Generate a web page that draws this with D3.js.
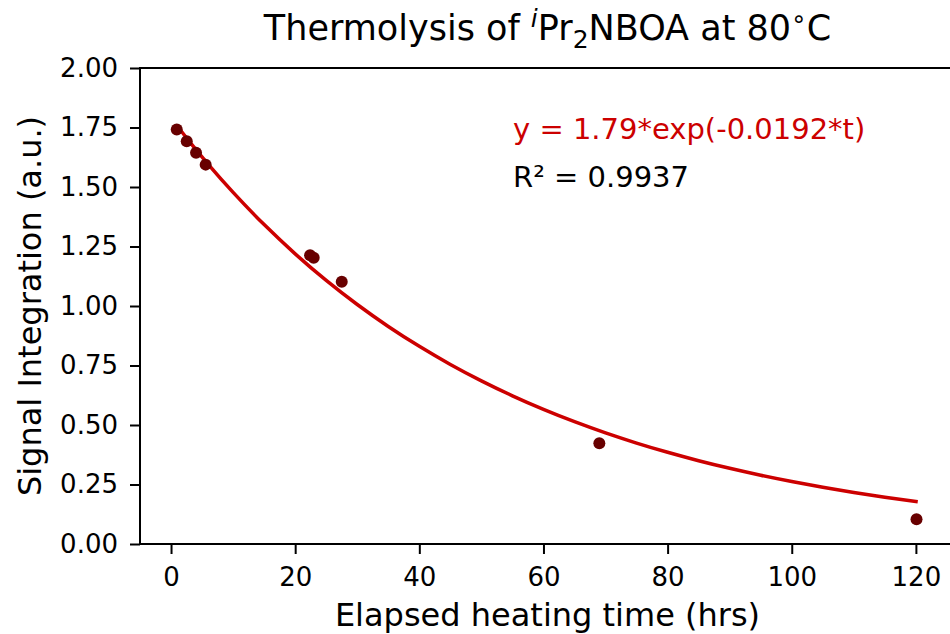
<!DOCTYPE html>
<html>
<head>
<meta charset="utf-8">
<script src="https://cdn.jsdelivr.net/npm/d3@7/dist/d3.min.js"></script>
<style>
  html, body { margin: 0; padding: 0; background: #fff; }
  svg { display: block; font-family: "DejaVu Sans", sans-serif; }
</style>
</head>
<body>
<svg id="chart" width="950" height="634"></svg>
<script>
// ---- data ----
const timeHrs = [0.92, 2.53, 4.03, 5.58, 22.4, 22.98, 27.5, 69.0, 120.1];
const signal  = [1.742, 1.692, 1.644, 1.594, 1.213, 1.203, 1.102, 0.423, 0.104];
const fitA = 1.79;
const fitK = 0.0192;
const fitTimes = [0.92, 3, 6, 10, 15, 20, 25, 30, 35, 40, 45, 50, 55, 60, 65, 70, 75, 80, 85, 90, 95, 100, 105, 110, 115, 120.3];
const xTicks = [0, 20, 40, 60, 80, 100, 120];
const yTicks = [0.00, 0.25, 0.50, 0.75, 1.00, 1.25, 1.50, 1.75, 2.00];
const equationText = "y = 1.79*exp(-0.0192*t)";
const r2Text = "R² = 0.9937";

// ---- layout ----
const L = 140, R = 955, T = 68, B = 544;
const svg = d3.select("#chart");

const x = d3.scaleLinear().domain([-5, 126.3]).range([L, R]);
const y = d3.scaleLinear().domain([0, 2]).range([B, T]);

// axes
const xAxis = svg.append("g").attr("transform", `translate(0,${B})`)
  .call(d3.axisBottom(x).tickValues(xTicks).tickFormat(d3.format("d")).tickSize(10).tickPadding(14));
const yAxis = svg.append("g").attr("transform", `translate(${L},0)`)
  .call(d3.axisLeft(y).tickValues(yTicks).tickFormat(d3.format(".2f")).tickSize(10).tickPadding(12));
[xAxis, yAxis].forEach(g => {
  g.select(".domain").remove();
  g.selectAll(".tick line").attr("stroke", "#000").attr("stroke-width", 2);
  g.selectAll(".tick text").attr("fill", "#000").style("font-family", "DejaVu Sans").style("font-size", "26px");
});

// frame (spines)
svg.append("rect").attr("x", L).attr("y", T).attr("width", R - L).attr("height", B - T)
  .attr("fill", "none").attr("stroke", "#000").attr("stroke-width", 2);

// fit curve
const line = d3.line().x(d => x(d)).y(d => y(fitA * Math.exp(-fitK * d))).curve(d3.curveMonotoneX);
svg.append("path").datum(fitTimes).attr("d", line)
  .attr("fill", "none").attr("stroke", "#cc0000").attr("stroke-width", 3.5);

// points
svg.append("g").selectAll("circle").data(timeHrs).join("circle")
  .attr("cx", d => x(d)).attr("cy", (d, i) => y(signal[i])).attr("r", 6)
  .attr("fill", "#680000");

// annotation
svg.append("text").attr("x", 513).attr("y", 139).attr("fill", "#cc0000")
  .style("font-size", "29px").text(equationText);
svg.append("text").attr("x", 513).attr("y", 187).attr("fill", "#000")
  .style("font-size", "29px").text(r2Text);

// title
const title = svg.append("text").attr("x", (L + R) / 2).attr("y", 40).attr("text-anchor", "middle")
  .style("font-size", "35px").attr("fill", "#000");
title.append("tspan").text("Thermolysis of ");
title.append("tspan").attr("font-style", "italic").attr("font-size", "25px").attr("dy", -13).text("i");
title.append("tspan").attr("dy", 13).text("Pr");
title.append("tspan").attr("font-size", "25px").attr("dy", 8).text("2");
title.append("tspan").attr("dy", -8).text("NBOA at 80");
title.append("tspan").attr("font-size", "25px").attr("dy", -13).text("∘");
title.append("tspan").attr("dy", 13).text("C");

// axis labels
svg.append("text").attr("x", (L + R) / 2).attr("y", 626).attr("text-anchor", "middle")
  .style("font-size", "32px").attr("fill", "#000").text("Elapsed heating time (hrs)");
svg.append("text").attr("transform", `translate(41,${(T + B) / 2}) rotate(-90)`).attr("text-anchor", "middle")
  .style("font-size", "32px").attr("fill", "#000").text("Signal Integration (a.u.)");
</script>
</body>
</html>
